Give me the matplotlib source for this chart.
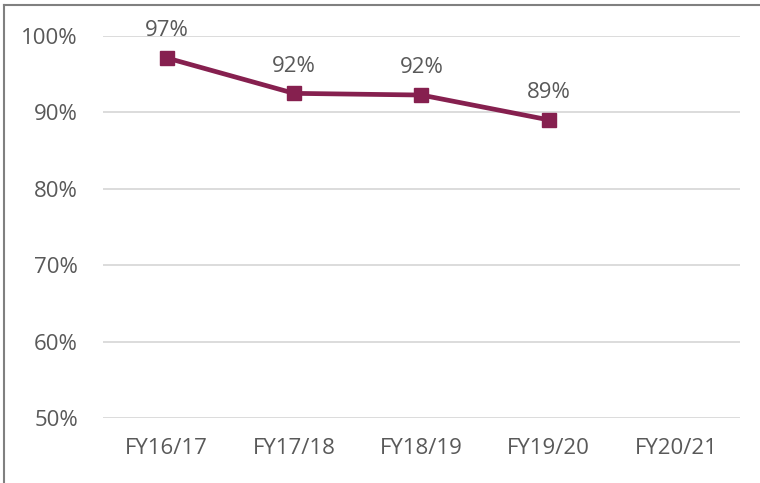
import matplotlib
matplotlib.use('Agg')
import matplotlib.pyplot as plt
from matplotlib.lines import Line2D

# data
years = ['FY16/17', 'FY17/18', 'FY18/19', 'FY19/20', 'FY20/21']
rate = [97.1, 92.47, 92.25, 89.0]
rate_labels = ['97%', '92%', '92%', '89%']
y_ticks = [50, 60, 70, 80, 90, 100]

plt.rcParams['font.family'] = ['Open Sans', 'DejaVu Sans']

line_color = '#86204F'
text_color = '#595959'

fig = plt.figure(figsize=(7.6, 4.83), dpi=100)
ax = fig.add_axes([0.1355, 0.134, 0.838, 0.792])

x = list(range(len(rate)))
ax.plot(x, rate, color=line_color, lw=3.4, marker='s', markersize=10,
        solid_joinstyle='round', zorder=3, clip_on=False)

for xi, yi, lab in zip(x, rate, rate_labels):
    ax.annotate(lab, xy=(xi, yi), xytext=(0, 12), textcoords='offset points',
                ha='center', va='bottom', fontsize=16, color=text_color)

ax.set_xlim(-0.5, len(years) - 0.5)
ax.set_ylim(50, 100)
ax.set_xticks(range(len(years)))
ax.set_xticklabels(years)
ax.set_yticks(y_ticks)
ax.set_yticklabels(['%d%%' % v for v in y_ticks])
ax.tick_params(axis='both', length=0, labelsize=16, labelcolor=text_color)
ax.tick_params(axis='y', pad=18)
ax.tick_params(axis='x', pad=14)

ax.grid(axis='y', color='#D9D9D9', lw=1.3)
ax.set_axisbelow(True)
for s in ax.spines.values():
    s.set_visible(False)

# outer frame, only top and left edges show in the crop
fig.add_artist(Line2D([0.005, 0.005], [0, 0.99], transform=fig.transFigure,
                      color='#808080', lw=1.5))
fig.add_artist(Line2D([0.005, 1.0], [0.99, 0.99], transform=fig.transFigure,
                      color='#808080', lw=1.5))

fig.savefig('out.png', dpi=100)
